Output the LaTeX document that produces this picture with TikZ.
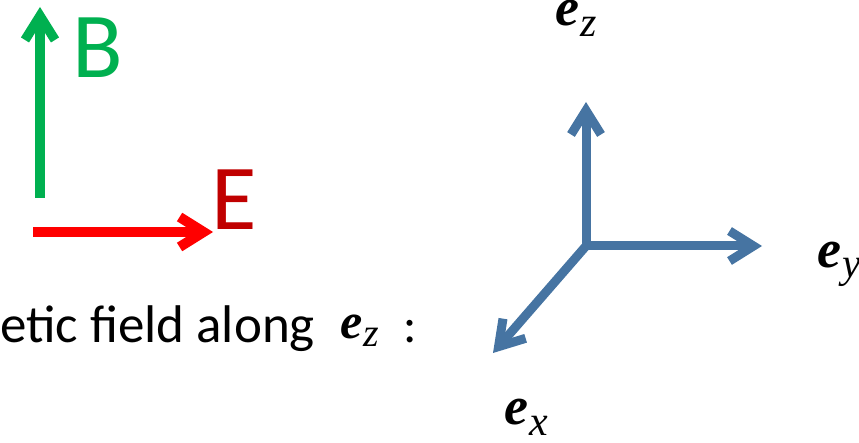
\documentclass[tikz,border=0pt]{standalone}
\usepackage{fontspec}
\setmainfont{Carlito}
\newfontfamily\labelserif{Liberation Serif}
\usetikzlibrary{arrows.meta}
\definecolor{bgreen}{HTML}{00B050}
\definecolor{ered}{HTML}{C00000}
\definecolor{axisblue}{HTML}{4674A2}
\newcommand{\evec}[4]{{\labelserif\fontsize{#1}{#1}\selectfont\bfseries\itshape e}\kern1pt\raisebox{-#4}{\labelserif\fontsize{#3}{#3}\selectfont\itshape #2}}
\begin{document}
\begin{tikzpicture}[x=1pt,y=-1pt,
  vec/.style={line width=9.5pt, -{Straight Barb[length=24pt,width=30pt]}},
  lbl/.style={inner sep=0pt, anchor=base west}]
\useasboundingbox (0,0) rectangle (859,443);
% left: B and E
\coordinate (Bs) at (40,198);
\coordinate (Bt) at (40,7);
\coordinate (Es) at (33,232);
\coordinate (Et) at (213,232);
\draw[vec, bgreen] (Bs) -- (Bt);
\draw[vec, red, line width=10pt] (Es) -- (Et);
\node[lbl, text=bgreen, font=\fontsize{93}{93}\selectfont] (B) at (72,78) {B};
\node[lbl, text=ered, font=\fontsize{93}{93}\selectfont] (E) at (211,230) {E};
% text line
\node[lbl, font=\fontsize{53}{53}\selectfont] (txt) at (0,342) {etic field along};
\node[lbl] (ezl) at (340,339) {\evec{50pt}{z}{40pt}{8pt}};
\node[lbl, font=\fontsize{50}{50}\selectfont] (colon) at (403,342) {:};
% axes
\coordinate (O) at (586,246);
\coordinate (Z) at (586,102);
\coordinate (Y) at (762,246);
\coordinate (X) at (493,353);
\draw[vec, axisblue, line width=9pt] (O) -- (Z);
\draw[vec, axisblue, line width=9pt] (O) -- (Y);
\draw[vec, axisblue, line width=9pt] (O) -- (X);
\node[lbl] (ez) at (555,26) {\evec{54pt}{z}{42pt}{11pt}};
\node[lbl] (ey) at (817,268) {\evec{54pt}{y}{42pt}{10pt}};
\node[lbl] (ex) at (504,424) {\evec{54pt}{x}{42pt}{11pt}};
\end{tikzpicture}
\end{document}
